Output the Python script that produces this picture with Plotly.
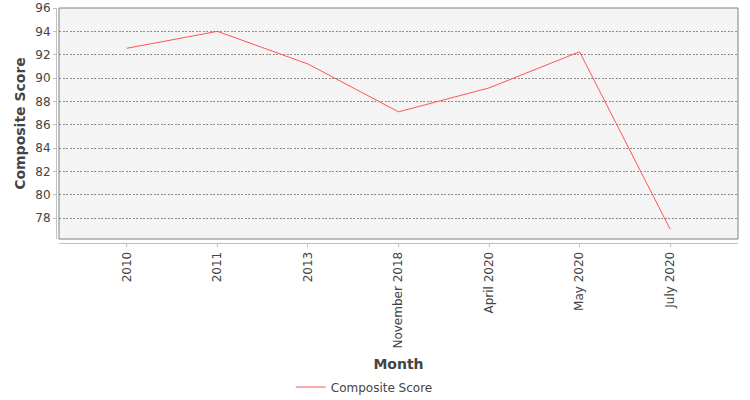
import plotly.graph_objects as go

months = ["2010", "2011", "2013", "November 2018", "April 2020", "May 2020", "July 2020"]
scores = [92.55, 94.0, 91.2, 87.1, 89.15, 92.25, 77.05]
series_name = "Composite Score"
y_ticks = [78, 80, 82, 84, 86, 88, 90, 92, 94, 96]

FONT = "DejaVu Sans"
TXT = "#444444"

fig = go.Figure()
fig.add_trace(go.Scatter(
    x=months, y=scores, mode="lines", name=series_name,
    line=dict(color="#ff5555", width=1),
))

fig.update_layout(
    width=750, height=400,
    margin=dict(l=56, r=12, t=8, b=157, autoexpand=False),
    paper_bgcolor="white",
    plot_bgcolor="#f4f4f4",
    font=dict(family=FONT, size=12, color=TXT),
    showlegend=True,
    legend=dict(
        orientation="h", x=0.452, xanchor="center", y=-0.613, yanchor="middle",
        font=dict(family=FONT, size=12, color=TXT), itemwidth=30,
        bgcolor="rgba(0,0,0,0)",
    ),
    xaxis=dict(
        type="category", domain=[0.0044, 1.0], anchor="free", position=0,
        range=[-0.75, 6.75], automargin=False,
        showline=True, linecolor="#c0c0c0", linewidth=1,
        ticks="outside", ticklen=3, tickcolor="#c0c0c0",
        tickangle=-90, tickfont=dict(family=FONT, size=12, color=TXT),
        showgrid=False, zeroline=False,
        title=dict(text="<b>Month</b>", font=dict(family=FONT, size=14, color=TXT), standoff=11),
    ),
    yaxis=dict(
        domain=[0.017, 1.0], anchor="free", position=0,
        range=[76.2, 96], tickvals=y_ticks, automargin=False,
        showline=True, linecolor="#c0c0c0", linewidth=1,
        ticks="outside", ticklen=3, tickcolor="#c0c0c0",
        tickfont=dict(family=FONT, size=12, color=TXT),
        showgrid=True, gridcolor="#8c8c8c", gridwidth=0.6, griddash="2px,1.5px",
        zeroline=False,
        title=dict(text="<b>Composite Score</b>", font=dict(family=FONT, size=14, color=TXT), standoff=5),
    ),
    shapes=[dict(
        type="rect", xref="x domain", yref="y domain", x0=0, x1=1, y0=0, y1=1,
        line=dict(color="#808080", width=1), fillcolor="rgba(0,0,0,0)", layer="above",
    )],
)

fig.write_html(
    "out.html",
    config={"displayModeBar": False},
    post_script="document.body.style.margin='0';document.body.style.overflow='hidden';",
)
